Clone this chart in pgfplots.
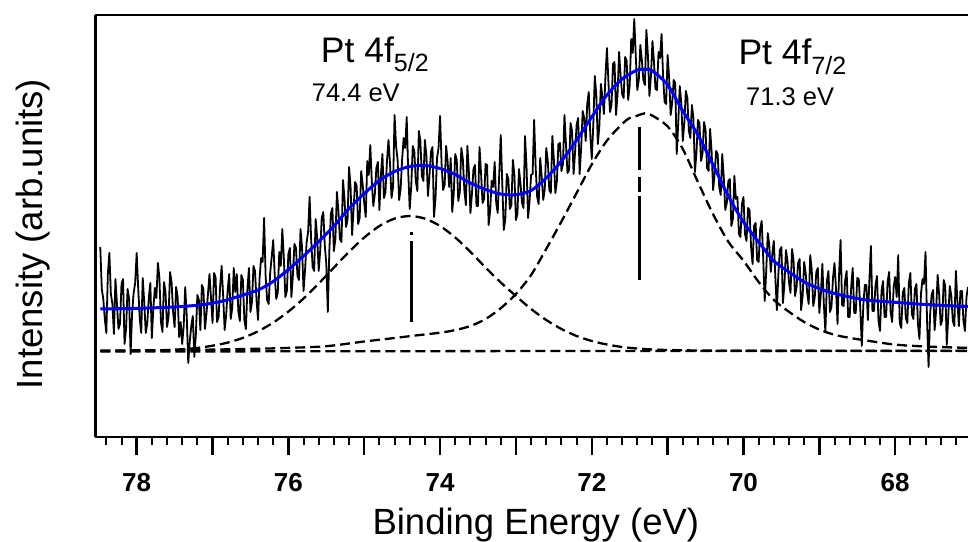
\documentclass[border=0pt]{standalone}
\usepackage{fontspec}
\setmainfont{Liberation Sans}
\usepackage{pgfplots}
\pgfplotsset{compat=1.18}
\definecolor{fitblue}{RGB}{0,0,245}

\begin{document}
\begin{tikzpicture}
\begin{axis}[
    scale only axis, width=872.5pt, height=422pt,
    x dir=reverse, xmin=67.04, xmax=78.543, ymin=0, ymax=422,
    axis x line*=bottom, axis y line*=left,
    axis line style={line width=2.7pt},
    ytick=\empty,
    xtick={68,70,72,74,76,78}, xticklabels={68,70,72,74,76,78},
    extra x ticks={67,69,71,73,75,77}, extra x tick labels={},
    minor xtick={67.2,67.4,...,78.41},
    tick align=outside,
    major tick length=18pt, minor tick length=8pt,
    every major tick/.append style={line width=2.4pt, black},
    every minor tick/.append style={line width=2pt, black},
    x tick label style={font=\bfseries\fontsize{26}{26}\selectfont, anchor=base, yshift=-36.7pt},
    xlabel={Binding Energy (eV)}, ylabel={Intensity (arb.units)},
    label style={font=\fontsize{36.5}{40}\selectfont},
    xlabel style={at={(axis description cs:0.5047,-0.2299)}, anchor=base},
    ylabel style={at={(axis description cs:-0.0609,0.481)}, anchor=base},
    clip=false,
]
% background and the two components
\addplot[black, line width=2.3pt, dash pattern=on 10pt off 5pt] coordinates {(78.48,85.5) (72,86) (67.04,86.3)};
\addplot[black, line width=2.3pt, dash pattern=on 10pt off 5pt, smooth] coordinates {
(78.48,86.1) (78.0,86.2) (77.6,87.0) (77.4,87.8) (77.2,89.1) (77.0,91.3) (76.8,94.4) (76.6,99.1)
(76.4,105.7) (76.2,114.4) (76.0,125.4) (75.8,138.5) (75.6,153.5) (75.4,169.4) (75.2,185.2)
(75.0,199.5) (74.8,211.0) (74.6,218.4) (74.4,221.0) (74.2,218.4) (74.0,211.0) (73.8,199.5)
(73.6,185.2) (73.4,169.4) (73.2,154.5) (73.0,141) (72.8,128) (72.6,117) (72.4,108) (72.2,101)
(72.0,96) (71.8,92.5) (71.6,90) (71.4,88.5) (71.2,87.5) (71.0,87) (70.6,86.5) (70.0,86.2)
(69.0,86.1) (67.04,86.1)};
\addplot[black, line width=2.3pt, dash pattern=on 10pt off 5pt, smooth] coordinates {
(78.48,86.4) (77.5,86.9) (77.0,87.4) (76.5,88.1) (76.0,89.1) (75.5,90.8) (75.0,95.5) (74.6,99)
(74.3,101.7) (74.0,104.3) (73.8,106.9) (73.6,111) (73.4,118) (73.2,128.8) (73.0,143) (72.8,162)
(72.6,188.2) (72.4,215.5) (72.2,244) (72.0,272.6) (71.8,296.4) (71.6,313) (71.5,319) (71.4,321.3)
(71.3,323.7) (71.2,321.3) (71.0,310.6) (70.8,288) (70.6,254.8) (70.4,222.7) (70.2,195.3)
(70.0,176.3) (69.8,155) (69.6,137.1) (69.4,125.2) (69.2,115) (69.0,107.4) (68.8,102.2)
(68.6,99.1) (68.4,96.7) (68.0,92.4) (67.6,90.5) (67.04,89.1)};
% measured spectrum
\addplot[black, line width=1.8pt, line join=round] coordinates {
(78.48,190) (78.46,148) (78.44,138) (78.42,118) (78.40,104) (78.38,163) (78.36,184) (78.34,143)
(78.32,133) (78.30,103) (78.28,158) (78.26,133) (78.24,108) (78.22,113) (78.20,153) (78.18,158)
(78.16,93) (78.14,108) (78.12,148) (78.10,138) (78.08,83) (78.06,124) (78.04,144) (78.02,154)
(78.00,184) (77.98,149) (77.96,119) (77.94,104) (77.92,159) (77.90,134) (77.88,104) (77.86,114)
(77.84,139) (77.82,154) (77.80,99) (77.78,129) (77.76,149) (77.74,139) (77.72,174) (77.70,159)
(77.68,115) (77.66,105) (77.64,155) (77.62,145) (77.60,110) (77.58,120) (77.56,165) (77.54,155)
(77.52,125) (77.50,110) (77.48,150) (77.46,140) (77.44,100) (77.42,115) (77.40,93) (77.38,111)
(77.36,150) (77.34,121) (77.32,74) (77.30,96) (77.28,111) (77.26,121) (77.24,80) (77.22,102)
(77.20,142) (77.18,137) (77.16,107) (77.14,152) (77.12,148) (77.10,108) (77.08,123) (77.06,143)
(77.04,163) (77.02,139) (77.00,114) (76.98,164) (76.96,160) (76.94,115) (76.92,120) (76.90,150)
(76.88,171) (76.86,141) (76.84,107) (76.82,122) (76.80,147) (76.78,163) (76.76,118) (76.74,129)
(76.72,169) (76.70,145) (76.68,163) (76.66,126) (76.64,116) (76.62,162) (76.60,157) (76.58,117)
(76.56,108) (76.54,148) (76.52,169) (76.50,125) (76.48,135) (76.46,171) (76.44,166) (76.42,137)
(76.40,117) (76.38,158) (76.36,179) (76.34,175) (76.32,219) (76.30,161) (76.28,137) (76.26,133)
(76.24,164) (76.22,180) (76.20,197) (76.18,162) (76.16,138) (76.14,144) (76.12,185) (76.10,171)
(76.08,208) (76.06,179) (76.04,140) (76.02,146) (76.00,183) (75.98,189) (75.96,140) (75.94,162)
(75.92,193) (75.90,189) (75.88,161) (75.86,157) (75.84,208) (75.82,190) (75.80,146) (75.78,167)
(75.76,194) (75.74,205) (75.72,240) (75.70,198) (75.68,170) (75.66,166) (75.64,218) (75.62,199)
(75.60,166) (75.58,187) (75.56,219) (75.54,225) (75.52,192) (75.50,173) (75.48,125) (75.46,186)
(75.44,223) (75.42,229) (75.40,186) (75.38,198) (75.36,245) (75.34,226) (75.32,198) (75.30,195)
(75.28,257) (75.26,238) (75.24,210) (75.22,217) (75.20,270) (75.18,250) (75.16,202) (75.14,228)
(75.12,255) (75.10,251) (75.08,213) (75.06,219) (75.04,266) (75.02,252) (75.00,234) (74.98,220)
(74.96,276) (74.94,262) (74.92,292) (74.90,255) (74.88,231) (74.86,243) (74.84,269) (74.82,275)
(74.80,227) (74.78,262) (74.76,283) (74.74,239) (74.72,245) (74.70,276) (74.68,297) (74.66,273)
(74.64,239) (74.62,250) (74.60,322) (74.58,291) (74.56,277) (74.54,237) (74.52,248) (74.50,278)
(74.48,299) (74.46,289) (74.44,320) (74.42,265) (74.40,228) (74.38,251) (74.36,291) (74.34,286)
(74.32,256) (74.30,246) (74.28,306) (74.26,296) (74.24,261) (74.22,256) (74.20,297) (74.18,281)
(74.16,241) (74.14,261) (74.12,285) (74.10,290) (74.08,220) (74.06,239) (74.04,279) (74.02,289)
(74.00,321) (73.98,273) (73.96,247) (73.94,252) (73.92,291) (73.90,275) (73.88,250) (73.86,279)
(73.84,225) (73.82,243) (73.80,283) (73.78,277) (73.76,236) (73.74,245) (73.72,289) (73.70,278)
(73.68,247) (73.66,232) (73.64,291) (73.62,265) (73.60,224) (73.58,243) (73.56,268) (73.54,272)
(73.52,231) (73.50,231) (73.48,290) (73.46,264) (73.44,234) (73.42,238) (73.40,273) (73.38,272)
(73.36,212) (73.34,226) (73.32,256) (73.30,250) (73.28,275) (73.26,234) (73.24,224) (73.22,263)
(73.20,302) (73.18,253) (73.16,207) (73.14,218) (73.12,263) (73.10,258) (73.08,228) (73.06,232)
(73.04,277) (73.02,262) (73.00,217) (72.98,223) (72.96,268) (72.94,254) (72.92,234) (72.90,229)
(72.88,301) (72.86,270) (72.84,219) (72.82,236) (72.80,262) (72.78,263) (72.76,317) (72.74,270)
(72.72,240) (72.70,233) (72.68,279) (72.66,260) (72.64,237) (72.62,248) (72.60,289) (72.58,276)
(72.56,247) (72.54,244) (72.52,301) (72.50,278) (72.48,244) (72.46,256) (72.44,293) (72.42,294)
(72.40,266) (72.38,273) (72.36,322) (72.34,292) (72.32,264) (72.30,267) (72.28,314) (72.26,306)
(72.24,263) (72.22,285) (72.20,312) (72.18,319) (72.16,263) (72.14,289) (72.12,326) (72.10,319)
(72.08,296) (72.06,333) (72.04,345) (72.02,303) (72.00,278) (71.98,312) (71.96,361) (71.94,342)
(71.92,293) (71.90,311) (71.88,353) (71.86,340) (71.84,323) (71.82,360) (71.80,389) (71.78,354)
(71.76,325) (71.74,332) (71.72,373) (71.70,375) (71.68,322) (71.66,343) (71.64,385) (71.62,361)
(71.60,343) (71.58,339) (71.56,380) (71.54,376) (71.52,337) (71.50,352) (71.48,398) (71.46,384)
(71.44,418) (71.42,381) (71.40,347) (71.38,357) (71.36,392) (71.34,377) (71.32,357) (71.30,352)
(71.28,407) (71.26,382) (71.24,341) (71.22,361) (71.20,396) (71.18,375) (71.16,348) (71.14,347)
(71.12,385) (71.10,379) (71.08,403) (71.06,361) (71.04,335) (71.02,333) (71.00,382) (70.98,359)
(70.96,322) (70.94,334) (70.92,357) (70.90,354) (70.88,283) (70.86,314) (70.84,351) (70.82,334)
(70.80,296) (70.78,314) (70.76,346) (70.74,339) (70.72,306) (70.70,299) (70.68,332) (70.66,319)
(70.64,265) (70.62,284) (70.60,317) (70.58,314) (70.56,276) (70.54,283) (70.52,315) (70.50,307)
(70.48,269) (70.46,266) (70.44,308) (70.42,285) (70.40,247) (70.38,264) (70.36,286) (70.34,283)
(70.32,250) (70.30,242) (70.28,283) (70.26,260) (70.24,227) (70.22,234) (70.20,256) (70.18,258)
(70.16,211) (70.14,218) (70.12,261) (70.10,238) (70.08,240) (70.06,203) (70.04,200) (70.02,233)
(70.00,240) (69.98,203) (69.96,196) (69.94,229) (69.92,227) (69.90,190) (69.88,173) (69.86,211)
(69.84,214) (69.82,177) (69.80,175) (69.78,208) (69.76,216) (69.74,179) (69.72,136) (69.70,166)
(69.68,204) (69.66,192) (69.64,165) (69.62,183) (69.60,196) (69.58,160) (69.56,127) (69.54,163)
(69.52,187) (69.50,190) (69.48,134) (69.46,153) (69.44,187) (69.42,176) (69.40,155) (69.38,144)
(69.36,188) (69.34,177) (69.32,141) (69.30,150) (69.28,174) (69.26,178) (69.24,127) (69.22,141)
(69.20,175) (69.18,164) (69.16,144) (69.14,133) (69.12,182) (69.10,167) (69.08,131) (69.06,140)
(69.04,165) (69.02,169) (69.00,124) (68.98,143) (68.96,173) (68.94,132) (68.92,105) (68.90,156)
(68.88,166) (68.86,125) (68.84,130) (68.82,159) (68.80,174) (68.78,148) (68.76,113) (68.74,162)
(68.72,197) (68.70,132) (68.68,131) (68.66,156) (68.64,166) (68.62,120) (68.60,120) (68.58,150)
(68.56,169) (68.54,124) (68.52,124) (68.50,159) (68.48,158) (68.46,128) (68.44,91) (68.42,132)
(68.40,152) (68.38,152) (68.36,117) (68.34,157) (68.32,191) (68.30,126) (68.28,126) (68.26,151)
(68.24,161) (68.22,116) (68.20,106) (68.18,146) (68.16,156) (68.14,120) (68.12,120) (68.10,155)
(68.08,165) (68.06,125) (68.04,115) (68.02,150) (68.00,160) (67.98,140) (67.96,182) (67.94,114)
(67.92,109) (67.90,144) (67.88,149) (67.86,119) (67.84,114) (67.82,154) (67.80,164) (67.78,123)
(67.76,118) (67.74,148) (67.72,153) (67.70,113) (67.68,98) (67.66,143) (67.64,158) (67.62,153)
(67.60,185) (67.58,117) (67.56,70) (67.54,122) (67.52,142) (67.50,147) (67.48,107) (67.46,127)
(67.44,162) (67.42,142) (67.40,112) (67.38,117) (67.36,157) (67.34,151) (67.32,92) (67.30,121)
(67.28,151) (67.26,141) (67.24,116) (67.22,111) (67.20,166) (67.18,136) (67.16,111) (67.14,146)
(67.12,146) (67.10,116) (67.08,106) (67.06,140) (67.04,150)};
% fit envelope
\addplot[fitblue, line width=3pt, smooth] coordinates {
(78.48,128.0) (78.2,128.3) (78.0,128.6) (77.8,129.1) (77.6,129.7) (77.4,130.5) (77.2,131.8)
(77.0,133.8) (76.8,137.2) (76.6,142.0) (76.4,147.0) (76.2,155.5) (76.0,167.5) (75.8,181.0)
(75.6,195.5) (75.4,211.0) (75.2,228.5) (75.0,243.5) (74.8,256.5) (74.6,265.5) (74.4,270.5)
(74.2,271.5) (74.0,268.5) (73.8,262.5) (73.6,254.0) (73.4,247.5) (73.2,243.0) (73.0,242.3)
(72.8,246.5) (72.6,259.0) (72.4,276.0) (72.2,297.0) (72.0,320.0) (71.8,342.0) (71.6,358.0)
(71.4,367.0) (71.3,367.5) (71.2,366.0) (71.0,352.0) (70.8,326.0) (70.6,302.0) (70.4,272.0)
(70.2,241.0) (70.0,215.0) (69.8,195.0) (69.6,176.0) (69.4,165.0) (69.2,155.0) (69.0,148.5)
(68.8,143.5) (68.6,140.0) (68.4,137.2) (68.2,135.8) (68.0,134.7) (67.8,133.5) (67.6,132.5)
(67.4,131.7) (67.2,131.0) (67.04,130.3)};
% peak positions
\addplot[black, line width=2.7pt, dash pattern=on 3pt off 6pt on 100pt] coordinates {(74.38,205.3) (74.38,115.3)};
\addplot[black, line width=2.7pt, dash pattern=on 43pt off 7pt on 15pt off 4pt on 100pt] coordinates {(71.37,310) (71.37,157)};
% top frame line
\draw[line width=2.7pt] (rel axis cs:0,1) -- (rel axis cs:1,1);
\node[anchor=base west, inner sep=0, font=\fontsize{35.5}{38}\selectfont] at (axis cs:75.574,374.3) {Pt 4f\raisebox{-9pt}{\fontsize{25}{25}\selectfont 5/2}};
\node[anchor=base west, inner sep=0, font=\fontsize{25.5}{28}\selectfont] at (axis cs:75.693,335.3) {74.4 eV};
\node[anchor=base west, inner sep=0, font=\fontsize{35.5}{38}\selectfont] at (axis cs:70.068,372) {Pt 4f\raisebox{-10pt}{\fontsize{25}{25}\selectfont 7/2}};
\node[anchor=base west, inner sep=0, font=\fontsize{25.5}{28}\selectfont] at (axis cs:69.967,331) {71.3 eV};
\end{axis}
\pgfresetboundingbox
\useasboundingbox (-95.5pt,-104pt) rectangle (872.5pt,437pt);
\end{tikzpicture}
\end{document}
